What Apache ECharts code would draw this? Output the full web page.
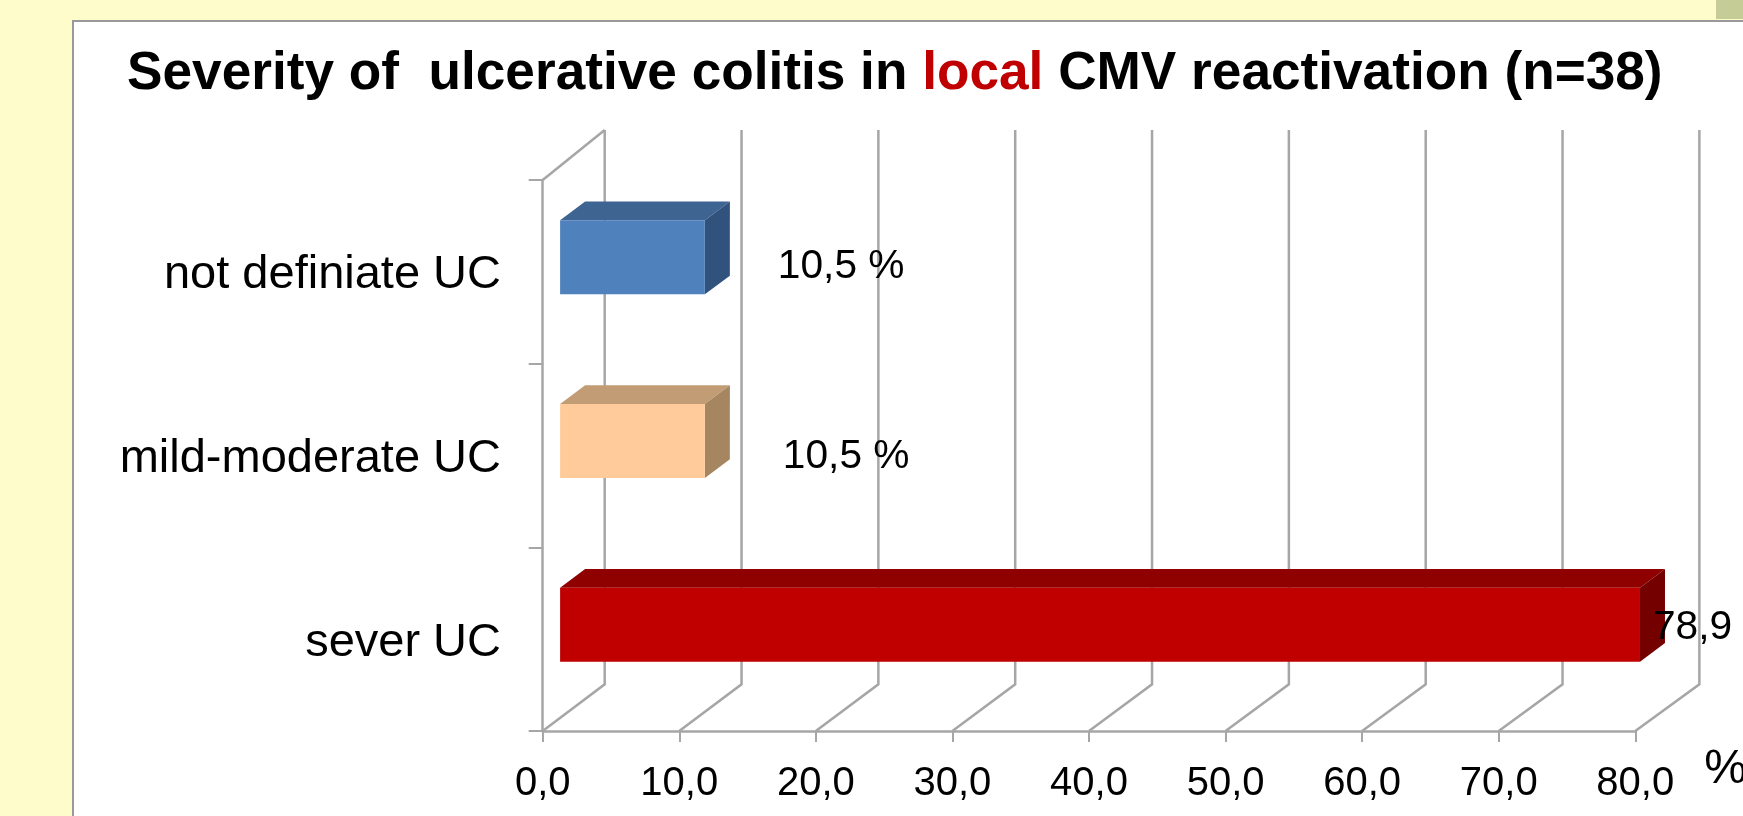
<!DOCTYPE html>
<html>
<head>
<meta charset="utf-8">
<style>html,body{margin:0;padding:0;background:#fffccc;overflow:hidden}#c{width:1743px;height:816px}</style>
<script src="https://cdn.jsdelivr.net/npm/echarts@6/dist/echarts.min.js"></script>
</head>
<body>
<div id="c"></div>
<script>
const categories = ['sever UC', 'mild-moderate UC', 'not definiate UC'];
const values = [78.9, 10.5, 10.5];
const valueLabels = ['78,9', '10,5 %', '10,5 %'];
const ticks = [0, 10, 20, 30, 40, 50, 60, 70, 80];

const FONT = '"Liberation Sans", Arial, sans-serif';
const GRID = '#a6a6a6';
const faces = [
  {front: '#c00000', top: '#8f0000', side: '#750000'},
  {front: '#ffcb9a', top: '#c19c74', side: '#a68561'},
  {front: '#4f81bd', top: '#3e6491', side: '#30527d'}
];
const labelGap = [13, 78, 73];
const labelShift = [10, 23, 16];

const chart = echarts.init(document.getElementById('c'), null, {width: 1743, height: 816});

function wallItem(params, api) {
  const cs = params.coordSys;
  const x = api.coord([api.value(0), 0])[0];
  const floor = cs.y + cs.height;
  const backX = x + 62 + api.value(0) * 0.026;
  const children = [{
    type: 'polyline',
    shape: {points: [[x, floor], [backX, floor - 46.7], [backX, 130]]},
    style: {stroke: GRID, lineWidth: 2.5, fill: null}
  }];
  if (api.value(0) === 0) {
    children.push({
      type: 'line',
      shape: {x1: x, y1: cs.y, x2: backX, y2: 130},
      style: {stroke: GRID, lineWidth: 2.5}
    });
  }
  return {type: 'group', children};
}

function barItem(params, api) {
  const i = params.dataIndex;
  const c = faces[i];
  const base = api.coord([0, api.value(1)]);
  const end = api.coord([api.value(0), api.value(1)]);
  const h = api.size([0, 1])[1] * 0.403;
  const x0 = base[0] + 17.4, x1 = end[0] + 18.6 + api.value(0) * 0.014;
  const y1 = base[1] - 14.5 - h / 2, y2 = y1 + h;
  const dx = 25, dy = 18.7;
  return {type: 'group', children: [
    {type: 'polygon', shape: {points: [[x0, y1], [x0 + dx, y1 - dy], [x1 + dx, y1 - dy], [x1, y1]]}, style: {fill: c.top}},
    {type: 'polygon', shape: {points: [[x1, y1], [x1 + dx, y1 - dy], [x1 + dx, y2 - dy], [x1, y2]]}, style: {fill: c.side}},
    {type: 'rect', shape: {x: x0, y: y1, width: x1 - x0, height: h}, style: {fill: c.front}},
    {type: 'text', style: {
      x: x1 + labelGap[i], y: base[1] - 14.5 + labelShift[i] - 7,
      text: valueLabels[i], fill: '#000', fontSize: 40.7, fontFamily: FONT,
      align: 'left', verticalAlign: 'middle'
    }}
  ]};
}

chart.setOption({
  animation: false,
  backgroundColor: '#fffccc',
  graphic: [
    {type: 'rect', z: -10, shape: {x: 1716, y: 0, width: 27, height: 19}, style: {fill: '#c6cc96'}},
    {type: 'rect', z: -10, shape: {x: 73, y: 21, width: 1700, height: 820}, style: {fill: '#fff', stroke: '#999', lineWidth: 2}}
  ],
  title: {
    left: 127, top: 48, padding: 0,
    text: '{a|Severity of  ulcerative colitis in }{b|local}{a| CMV reactivation (n=38)}',
    textStyle: {
      rich: {
        a: {fontSize: 53.2, fontWeight: 'bold', fontFamily: FONT, color: '#000'},
        b: {fontSize: 53.2, fontWeight: 'bold', fontFamily: FONT, color: '#c00000'}
      }
    }
  },
  grid: {left: 542.7, top: 180, width: 1092.6, height: 551, containLabel: false, outerBoundsMode: 'none'},
  xAxis: {
    type: 'value', min: 0, max: 80, interval: 10,
    name: '%', nameLocation: 'end', nameGap: 69,
    nameTextStyle: {fontSize: 48, fontFamily: FONT, color: '#000', verticalAlign: 'top', padding: [15, 0, 0, 0]},
    splitLine: {show: false},
    axisLine: {show: true, lineStyle: {color: GRID, width: 2.5}},
    axisTick: {show: true, length: 11, lineStyle: {color: GRID, width: 2}},
    axisLabel: {
      margin: 33, fontSize: 40, fontFamily: FONT, color: '#000', showMinLabel: true, showMaxLabel: true,
      formatter: v => v.toFixed(1).replace('.', ',')
    }
  },
  yAxis: {
    type: 'category', data: categories,
    axisLine: {show: true, lineStyle: {color: GRID, width: 2.5}},
    axisTick: {show: true, length: 14, lineStyle: {color: GRID, width: 2}},
    axisLabel: {
      margin: 41.7, formatter: v => '{c|' + v + '}',
      rich: {c: {fontSize: 47, fontFamily: FONT, color: '#000', padding: [7, 0, 0, 0]}}
    }
  },
  series: [
    {type: 'custom', z: 1, silent: true, clip: false, renderItem: wallItem, encode: {x: 0}, data: ticks.map(t => [t])},
    {type: 'custom', z: 3, silent: true, clip: false, renderItem: barItem, encode: {x: 0, y: 1}, data: values.map((v, i) => [v, i])}
  ]
});
</script>
</body>
</html>
